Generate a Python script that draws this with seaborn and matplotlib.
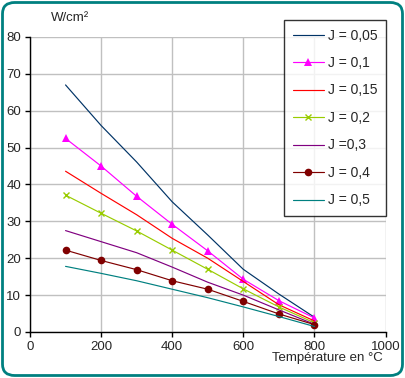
import numpy as np
import pandas as pd
import matplotlib
matplotlib.use("Agg")
import matplotlib.pyplot as plt
from matplotlib.patches import FancyBboxPatch
import seaborn as sns

# data
temperature = [100, 200, 300, 400, 500, 600, 700, 800]
labels = ["J = 0,05", "J = 0,1", "J = 0,15", "J = 0,2", "J =0,3", "J = 0,4", "J = 0,5"]
j005 = [67.0, 56.0, 46.1, 35.3, 26.3, 17.0, 10.3, 4.0]
j01 = [52.5, 45.0, 36.8, 29.2, 22.0, 14.3, 8.5, 3.8]
j015 = [43.6, 37.6, 31.8, 25.4, 20.0, 13.7, 7.4, 3.0]
j02 = [37.1, 32.2, 27.4, 22.2, 17.0, 11.7, 6.8, 2.5]
j03 = [27.5, 24.5, 21.5, 17.6, 13.5, 10.0, 6.0, 2.1]
j04 = [22.2, 19.4, 16.9, 13.9, 11.6, 8.3, 4.9, 2.0]
j05 = [17.8, 15.9, 13.9, 11.6, 9.3, 6.8, 4.2, 1.5]
series = [j005, j01, j015, j02, j03, j04, j05]

colors = ["#003366", "#ff00ff", "#ff0000", "#99cc00", "#800080", "#800000", "#008080"]
markers = [None, "^", None, "x", None, "o", None]
msizes = [0, 6, 0, 4, 0, 5.5, 0]

df = pd.DataFrame({
    "T": np.tile(temperature, len(labels)),
    "P": np.concatenate(series),
    "J": np.repeat(labels, len(temperature)),
})

sns.set_style("white")
plt.rcParams["font.family"] = ["Liberation Sans", "DejaVu Sans"]
fs = 9.5

fig = plt.figure(figsize=(4.05, 3.78), dpi=100)
ax = fig.add_axes([30 / 405, 1 - 332 / 378, 355.5 / 405, 295 / 378])

for lab, col, mk, ms in zip(labels, colors, markers, msizes):
    sub = df[df["J"] == lab]
    sns.lineplot(data=sub, x="T", y="P", ax=ax, color=col, lw=0.85,
                 marker=mk if mk else "", markersize=ms,
                 markeredgecolor=col, markeredgewidth=1 if mk == "x" else 0,
                 label=lab)

ax.set_xlim(0, 1000)
ax.set_ylim(0, 80)
ax.set_xticks(range(0, 1001, 200))
ax.set_yticks(range(0, 81, 10))
ax.grid(True, color="#c0c0c0", lw=1)
ax.set_axisbelow(True)
for s in ["top", "right"]:
    ax.spines[s].set_visible(False)
for s in ["left", "bottom"]:
    ax.spines[s].set_color("black")
    ax.spines[s].set_linewidth(1)
ax.tick_params(axis="both", direction="out", length=3.5, width=1, color="black",
               labelsize=fs, pad=3, left=True, bottom=True)
ax.set_xlabel("")
ax.set_ylabel("")

fig.text(51 / 405, 1 - 18 / 378, "W/cm²", fontsize=fs, ha="left", va="center")
fig.text(383 / 405, 1 - 358 / 378, "Température en °C", fontsize=fs, ha="right", va="center")

leg = ax.legend(loc="upper left", bbox_to_anchor=(284 / 405, 1 - 19.5 / 378),
                bbox_transform=fig.transFigure, frameon=True, fancybox=False,
                fontsize=10, handlelength=2.2, handletextpad=0.3,
                labelspacing=0.97, borderpad=0.65, borderaxespad=0)
leg.get_frame().set_edgecolor("black")
leg.get_frame().set_linewidth(1)

border = FancyBboxPatch((2.5 / 405, 2.5 / 378), 400 / 405, 373 / 378,
                        boxstyle="round,pad=0,rounding_size=0.03",
                        transform=fig.transFigure, fill=False,
                        edgecolor="#008080", lw=2)
fig.patches.append(border)

fig.savefig("out.png", dpi=100)
